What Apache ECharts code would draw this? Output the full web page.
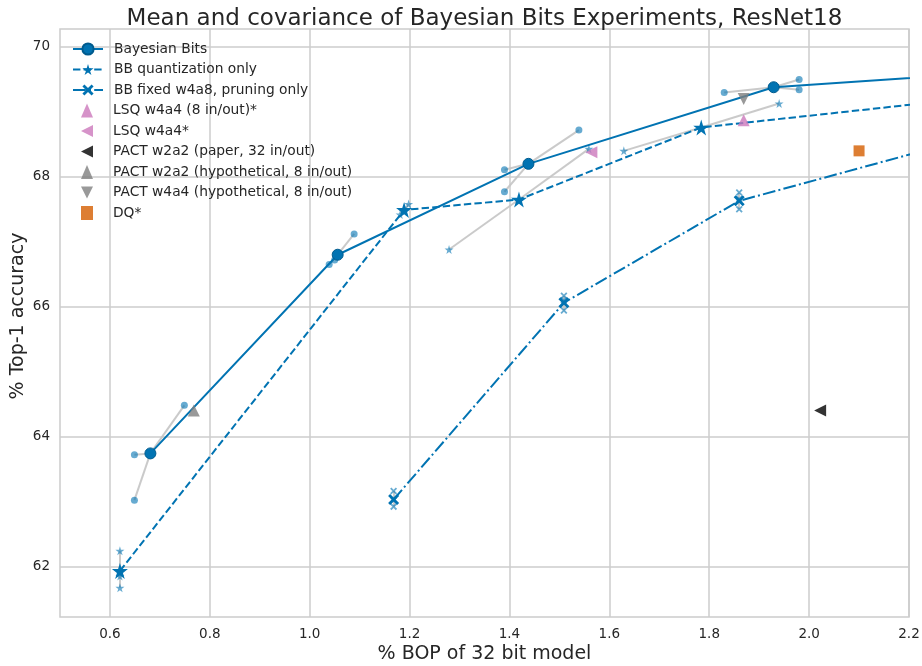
<!DOCTYPE html>
<html><head><meta charset="utf-8">
<script src="https://cdn.jsdelivr.net/npm/echarts@6/dist/echarts.min.js"></script>
<style>html,body{margin:0;padding:0;background:#fff}#c{width:922px;height:666px}</style>
</head><body><div id="c"></div><script>
// ---- data ----
const xTicks = [0.6, 0.8, 1.0, 1.2, 1.4, 1.6, 1.8, 2.0, 2.2];
const yTicks = [62, 64, 66, 68, 70];

const bbMean = [[0.681, 63.74], [1.056, 66.80], [1.438, 68.20], [1.929, 69.38], [2.5, 69.68]];
const bbSeeds = [
  [[0.649, 63.72], [0.649, 63.02], [0.749, 64.48]],
  [[1.089, 67.12], [1.039, 66.65], [1.050, 66.72]],
  [[1.390, 68.11], [1.390, 67.77], [1.539, 68.72]],
  [[1.830, 69.30], [1.980, 69.50], [1.980, 69.34]]
];
const quantMean = [[0.620, 61.93], [1.189, 67.49], [1.419, 67.65], [1.784, 68.76], [2.5, 69.36]];
const quantSeeds = [
  [[0.620, 62.24], [0.620, 61.67], [0.620, 61.85]],
  [[1.198, 67.58], [1.181, 67.42], [1.189, 67.47]],
  [[1.279, 66.88], [1.559, 68.43], [1.419, 67.65]],
  [[1.629, 68.40], [1.940, 69.13], [1.784, 68.76]]
];
const pruneMean = [[1.168, 63.03], [1.509, 66.06], [1.860, 67.63], [2.5, 68.97]];
const pruneSeeds = [
  [[1.168, 63.16], [1.168, 62.92], [1.168, 63.02]],
  [[1.509, 66.17], [1.509, 65.94], [1.509, 66.10]],
  [[1.860, 67.76], [1.860, 67.50], [1.860, 67.66]]
];
const lsq8 = [[1.869, 68.87]];
const lsq = [[1.564, 68.38]];
const pactPaper = [[2.022, 64.40]];
const pact2Hyp = [[0.768, 64.40]];
const pact4Hyp = [[1.869, 69.20]];
const dq = [[2.100, 68.40]];

// ---- styling ----
const BLUE = '#0173b2';
const SEEDC = 'rgba(1,115,178,0.75)';
const FONT = 'DejaVu Sans';
const TXT = '#262626';
const STAR = 'path://M50,0 L61,35 L98,35 L68,57 L79,91 L50,70 L21,91 L32,57 L2,35 L39,35 Z';
const XMARK = 'path://M0,18 L18,0 L50,32 L82,0 L100,18 L68,50 L100,82 L82,100 L50,68 L18,100 L0,82 L32,50 Z';
const TRI_LEFT = 'path://M0,50 L100,0 L100,100 Z';
const TRI_DOWN = 'path://M0,0 L100,0 L50,100 Z';

function pairs(means, seeds) {
  const out = [];
  seeds.forEach((g, i) => g.forEach(s => out.push({coords: [means[i], s]})));
  return out;
}
function flat(seeds) { return seeds.reduce((a, g) => a.concat(g), []); }

const grayLines = pairs(bbMean, bbSeeds).concat(pairs(quantMean, quantSeeds), pairs(pruneMean, pruneSeeds));

const legendText = {fontFamily: FONT, fontSize: 13.8, color: TXT, lineHeight: 14};

const chart = echarts.init(document.getElementById('c'), null, {renderer: 'canvas'});
chart.setOption({
  animation: false,
  backgroundColor: '#fff',
  textStyle: {fontFamily: FONT, color: TXT},
  title: {
    text: 'Mean and covariance of Bayesian Bits Experiments, ResNet18',
    left: 484.5, textAlign: 'center', top: 8, padding: 0,
    textStyle: {fontFamily: FONT, fontSize: 23, fontWeight: 'normal', color: TXT}
  },
  grid: {left: 60, right: 13, top: 29, bottom: 49, outerBoundsMode: 'none', containLabel: false,
    show: true, borderColor: '#cccccc', borderWidth: 1.5, backgroundColor: '#fff'},
  legend: [{
    orient: 'vertical', left: 72, top: 42, padding: 0, itemWidth: 30, itemHeight: 14, itemGap: 6.5,
    textStyle: Object.assign({padding: [0, 0, 0, 6]}, legendText),
    data: ['Bayesian Bits', 'BB quantization only', 'BB fixed w4a8, pruning only']
  }, {
    orient: 'vertical', left: 81, top: 103.5, padding: 0, itemWidth: 12, itemHeight: 14, itemGap: 6.5,
    textStyle: Object.assign({padding: [0, 0, 0, 15]}, legendText),
    data: [
      {name: 'LSQ w4a4 (8 in/out)*', icon: 'triangle'},
      {name: 'LSQ w4a4*', icon: TRI_LEFT},
      {name: 'PACT w2a2 (paper, 32 in/out)', icon: TRI_LEFT},
      {name: 'PACT w2a2 (hypothetical, 8 in/out)', icon: 'triangle'},
      {name: 'PACT w4a4 (hypothetical, 8 in/out)', icon: TRI_DOWN},
      {name: 'DQ*', icon: 'rect'}
    ]
  }],
  xAxis: {
    type: 'value', min: 0.5, max: 2.2,
    name: '% BOP of 32 bit model', nameLocation: 'middle', nameGap: 28, nameMoveOverlap: false,
    nameTextStyle: {fontFamily: FONT, fontSize: 19, color: TXT},
    axisLine: {show: false}, axisTick: {show: false, customValues: xTicks},
    axisLabel: {customValues: xTicks, margin: 10, fontFamily: FONT, fontSize: 13.5, color: TXT, formatter: v => v.toFixed(1)},
    splitLine: {show: true, lineStyle: {color: '#cccccc', width: 1.5}}
  },
  yAxis: {
    type: 'value', min: 61.22, max: 70.277,
    name: '% Top-1 accuracy', nameLocation: 'middle', nameGap: 32, nameMoveOverlap: false,
    nameTextStyle: {fontFamily: FONT, fontSize: 19, color: TXT, padding: [0, 0, 0, 14]},
    axisLine: {show: false}, axisTick: {show: false, customValues: yTicks},
    axisLabel: {customValues: yTicks, margin: 10, fontFamily: FONT, fontSize: 13.5, color: TXT, formatter: v => String(v)},
    splitLine: {show: true, lineStyle: {color: '#cccccc', width: 1.5}}
  },
  series: [
    {type: 'lines', coordinateSystem: 'cartesian2d', data: grayLines, z: 1, silent: true,
      lineStyle: {color: '#c4c4c4', width: 2, opacity: 0.9}},
    {type: 'scatter', data: flat(bbSeeds), symbol: 'circle', symbolSize: 7, itemStyle: {color: SEEDC}, z: 2},
    {type: 'scatter', data: flat(quantSeeds), symbol: STAR, symbolSize: 9, itemStyle: {color: SEEDC}, z: 2},
    {type: 'scatter', data: flat(pruneSeeds), symbol: XMARK, symbolSize: 7, itemStyle: {color: SEEDC}, z: 2},
    {name: 'Bayesian Bits', type: 'line', data: bbMean, symbol: 'circle', symbolSize: 11, showSymbol: true, clip: true,
      lineStyle: {color: BLUE, width: 2}, itemStyle: {color: BLUE, borderColor: '#005b8e', borderWidth: 1}, z: 3},
    {name: 'BB quantization only', type: 'line', data: quantMean, symbol: STAR, symbolSize: 16, clip: true,
      lineStyle: {color: BLUE, width: 2, type: [7.4, 3.2]}, itemStyle: {color: BLUE}, z: 3},
    {name: 'BB fixed w4a8, pruning only', type: 'line', data: pruneMean, symbol: XMARK, symbolSize: 11, clip: true,
      lineStyle: {color: BLUE, width: 2, type: [12.8, 3.2, 2, 3.2]}, itemStyle: {color: BLUE}, z: 3},
    {name: 'LSQ w4a4 (8 in/out)*', type: 'scatter', data: lsq8, symbol: 'triangle', symbolSize: 12, itemStyle: {color: '#cc78bc'}, z: 4},
    {name: 'LSQ w4a4*', type: 'scatter', data: lsq, symbol: TRI_LEFT, symbolSize: 12, itemStyle: {color: '#cc78bc'}, z: 4},
    {name: 'PACT w2a2 (paper, 32 in/out)', type: 'scatter', data: pactPaper, symbol: TRI_LEFT, symbolSize: 12, itemStyle: {color: '#000000'}, z: 4},
    {name: 'PACT w2a2 (hypothetical, 8 in/out)', type: 'scatter', data: pact2Hyp, symbol: 'triangle', symbolSize: 12, itemStyle: {color: '#808080'}, z: 4},
    {name: 'PACT w4a4 (hypothetical, 8 in/out)', type: 'scatter', data: pact4Hyp, symbol: TRI_DOWN, symbolSize: 12, itemStyle: {color: '#808080'}, z: 4},
    {name: 'DQ*', type: 'scatter', data: dq, symbol: 'rect', symbolSize: 11, itemStyle: {color: '#d55e00'}, z: 4}
  ]
});
</script></body></html>
